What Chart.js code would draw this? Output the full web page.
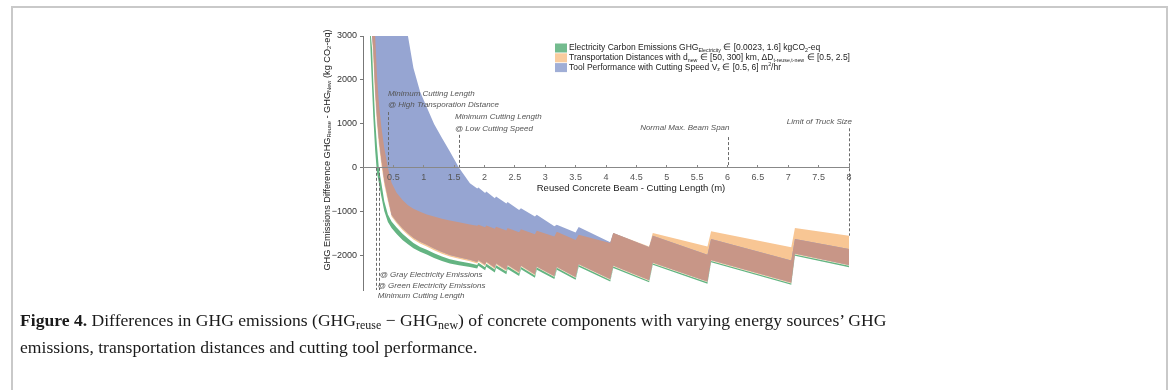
<!DOCTYPE html>
<html lang="en">
<head>
<meta charset="UTF-8" />
<title>Figure 4 – GHG emissions difference vs cutting length</title>
<script src="https://cdn.jsdelivr.net/npm/chart.js"></script>
<style>
  html, body { margin:0; padding:0; background:#fff; }
  body { width:1170px; height:390px; overflow:hidden; position:relative; }
  #frame { position:absolute; left:11px; top:6px; width:1157px; height:420px;
           border:2px solid #c9c9c9; border-bottom:none; box-sizing:border-box; }
  #chart { position:absolute; left:0; top:0; }
  #caption { position:absolute; left:20px; top:308px; font-family:"Liberation Serif", serif;
             font-size:17.6px; line-height:25px; color:#1a1a1a; white-space:nowrap; }
  #caption sub { font-size:0.68em; vertical-align:baseline; position:relative; top:0.28em; }
</style>
</head>
<body>
<div id="frame"></div>
<canvas id="chart" width="1170" height="310"></canvas>
<div id="caption"><b>Figure 4.</b> Differences in GHG emissions (GHG<sub>reuse</sub> − GHG<sub>new</sub>) of concrete components with varying energy sources’ GHG<br>emissions, transportation distances and cutting tool performance.</div>

<script>
// ---- data (kg CO2-eq vs cutting length in m) ----
const cutLength = [0.115, 0.13, 0.15, 0.17, 0.2, 0.23, 0.26, 0.3, 0.35, 0.41,
                   0.47, 0.55, 0.65, 0.74, 0.83, 0.94, 1.05, 1.17, 1.3, 1.43,
                   1.58, 1.76, 1.88, 1.9, 2.01, 2.03, 2.17, 2.19, 2.36, 2.38,
                   2.57, 2.6, 2.83, 2.86, 3.15, 3.19, 3.5, 3.55, 4.07, 4.12,
                   4.71, 4.77, 5.67, 5.73, 7.05, 7.11, 8];

// electricity band (green)
const elecLow  = [3000, 2450, 1800, 1150, 400, -120, -330, -640, -980, -1230,
                  -1370, -1500, -1640, -1740, -1830, -1910, -1975, -2050, -2120, -2175,
                  -2215, -2255, -2290, -2230, -2330, -2250, -2380, -2280, -2420, -2300,
                  -2460, -2310, -2500, -2320, -2530, -2320, -2545, -2250, -2585, -2280,
                  -2605, -2205, -2635, -2150, -2660, -2000, -2260];
const elecHigh = [3000, 3000, 2700, 1950, 1100, 500, 0, -330, -760, -1060,
                  -1220, -1350, -1500, -1610, -1710, -1800, -1865, -1945, -2020, -2080,
                  -2125, -2170, -2210, -2160, -2260, -2180, -2315, -2215, -2360, -2240,
                  -2405, -2255, -2450, -2270, -2485, -2275, -2505, -2210, -2550, -2245,
                  -2575, -2175, -2605, -2120, -2630, -1970, -2230];

// transportation band (orange)
const transLow  = [3000, 3000, 3000, 2500, 1600, 1000, 550, 100, -380, -760,
                   -1110, -1255, -1415, -1530, -1630, -1720, -1790, -1875, -1955, -2020,
                   -2070, -2125, -2175, -2130, -2235, -2160, -2300, -2202, -2348, -2230,
                   -2397, -2248, -2444, -2265, -2480, -2270, -2500, -2205, -2545, -2240,
                   -2570, -2170, -2600, -2115, -2625, -1965, -2225];
const transHigh = [3000, 3000, 3000, 3000, 3000, 2100, 1500, 950, 450, 0,
                   -340, -560, -730, -850, -930, -1000, -1060, -1110, -1160, -1200,
                   -1240, -1290, -1320, -1295, -1350, -1315, -1385, -1340, -1425, -1370,
                   -1465, -1400, -1510, -1430, -1565, -1455, -1640, -1520, -1710, -1485,
                   -1790, -1485, -1790, -1445, -1805, -1370, -1545];

// tool performance band (blue)
const toolLow  = [3000, 3000, 3000, 2700, 1800, 1150, 680, 220, -280, -680,
                  -1070, -1215, -1375, -1490, -1590, -1680, -1750, -1835, -1915, -1982,
                  -2033, -2090, -2142, -2098, -2205, -2130, -2272, -2174, -2322, -2204,
                  -2373, -2224, -2422, -2243, -2460, -2250, -2482, -2187, -2528, -2223,
                  -2554, -2154, -2584, -2099, -2609, -1949, -2209];
const toolHigh = [3000, 3000, 3000, 3000, 3000, 3000, 3000, 3000, 3000, 3000,
                  3000, 3000, 3000, 3000, 2270, 1730, 1380, 1000, 680, 370,
                  0, -350, -470, -445, -570, -540, -690, -655, -810, -775,
                  -960, -920, -1110, -1070, -1330, -1295, -1470, -1348, -1695, -1485,
                  -1810, -1545, -1977, -1621, -2106, -1621, -1848];

const xTicks = [0.5, 1, 1.5, 2, 2.5, 3, 3.5, 4, 4.5, 5, 5.5, 6, 6.5, 7, 7.5, 8];
const yTicks = [-2000, -1000, 0, 1000, 2000, 3000];

// dashed reference lines: x position, top and bottom value
const markerX    = [0.21, 0.26, 0.41, 1.58, 6, 8];
const markerFrom = [0, 0, 1270, 750, 700, 900];
const markerTo   = [-2780, -2780, 0, 0, 0, -1545];

const legendItems = [
  [['Electricity Carbon Emissions GHG',''],['Electricity','sub'],[' \u2208 [0.0023, 1.6] kgCO',''],['2','sub'],['-eq','']],
  [['Transportation Distances with d',''],['new','sub'],[' \u2208 [50, 300] km, \u0394D',''],['t-reuse,t-new','sub'],[' \u2208 [0.5, 2.5]','']],
  [['Tool Performance with Cutting Speed V',''],['z','sub'],[' \u2208 [0.5, 6] m',''],['2','sup'],['/hr','']]
];
const yTitle = [['GHG Emissions Difference GHG',''],['Reuse','sub'],[' - GHG',''],['New','sub'],[' (kg CO',''],['2','sub'],['-eq)','']];

const GREEN = '#64b482', ORANGE = '#f8c694', BLUE = '#96a5d2', BROWN = '#c89687';
const FONT = '"Liberation Sans", Arial, sans-serif';

// overlap of orange and blue bands shows as brown
const overlapLow  = toolLow.map((v, i) => Math.max(v, transLow[i]));
const overlapHigh = toolHigh.map((v, i) => Math.min(v, transHigh[i]));

const pts = arr => cutLength.map((x, i) => ({ x, y: arr[i] }));
const edge = (label, arr, order) => ({ label, data: pts(arr), borderWidth: 0, fill: false, order });
const band = (label, arr, color, order) => ({ label, data: pts(arr), borderWidth: 0,
                                            backgroundColor: color, fill: '-1', order });

// rich text with sub/superscripts
function richWidth(ctx, parts, size) {
  let w = 0;
  parts.forEach(([t, k]) => { ctx.font = `${k ? size * 0.62 : size}px ${FONT}`; w += ctx.measureText(t).width; });
  return w;
}
function drawRich(ctx, parts, x, y, size) {
  let cx = x;
  parts.forEach(([t, k]) => {
    ctx.font = `${k ? size * 0.62 : size}px ${FONT}`;
    const dy = k === 'sub' ? size * 0.28 : k === 'sup' ? -size * 0.32 : 0;
    ctx.fillText(t, cx, y + dy);
    cx += ctx.measureText(t).width;
  });
}

const decor = {
  id: 'decor',
  afterDatasetsDraw(chart) {
    const { ctx, chartArea: ca, scales: { x, y } } = chart;
    ctx.save();

    // dashed lines
    ctx.setLineDash([3, 2]);
    ctx.strokeStyle = '#6a6a6a';
    ctx.lineWidth = 1;
    markerX.forEach((mx, i) => {
      const px = Math.round(x.getPixelForValue(mx)) + 0.5;
      ctx.beginPath();
      ctx.moveTo(px, y.getPixelForValue(markerFrom[i]));
      ctx.lineTo(px, y.getPixelForValue(markerTo[i]));
      ctx.stroke();
    });
    ctx.setLineDash([]);

    // notes
    ctx.fillStyle = '#555';
    ctx.textBaseline = 'middle';
    ctx.font = `italic 8px ${FONT}`;
    const px = i => x.getPixelForValue(markerX[i]);
    const py = i => y.getPixelForValue(markerFrom[i]);
    ctx.textAlign = 'left';
    ctx.fillText('@ Gray Electricity Emissions', px(0) + 4, ca.bottom - 15);
    ctx.fillText('@ Green Electricity Emissions', px(0) + 2, ca.bottom - 4);
    ctx.fillText('Minimum Cutting Length', px(0) + 2, ca.bottom + 6);
    ctx.fillText('Minimum Cutting Length', px(2), py(2) - 18);
    ctx.fillText('@ High Transporation Distance', px(2), py(2) - 7);
    ctx.fillText('Minimum Cutting Length', px(3) - 4, py(3) - 18);
    ctx.fillText('@ Low Cutting Speed', px(3) - 4, py(3) - 6);
    ctx.textAlign = 'right';
    ctx.fillText('Normal Max. Beam Span', px(4) + 2, py(4) - 9);
    ctx.fillText('Limit of Truck Size', px(5) + 3, py(5) - 7);

    // x axis title (sits under the tick labels at y = 0)
    ctx.fillStyle = '#222';
    ctx.textAlign = 'center';
    ctx.font = `9.5px ${FONT}`;
    ctx.fillText('Reused Concrete Beam - Cutting Length (m)', ca.left + 268, y.getPixelForValue(0) + 21);

    // y axis title
    ctx.textAlign = 'left';
    ctx.save();
    ctx.translate(ca.left - 36, 150);
    ctx.rotate(-Math.PI / 2);
    const tw = richWidth(ctx, yTitle, 9.2);
    drawRich(ctx, yTitle, -tw / 2, 0, 9.2);
    ctx.restore();

    // legend
    legendItems.forEach((parts, i) => {
      const ly = ca.top + 12 + i * 9.8;
      ctx.fillStyle = [GREEN, ORANGE, BLUE][i];
      ctx.globalAlpha = 0.9;
      ctx.fillRect(ca.left + 192, ly - 4.5, 12, 9);
      ctx.globalAlpha = 1;
      ctx.fillStyle = '#222';
      drawRich(ctx, parts, ca.left + 206, ly, 8.5);
    });
    ctx.restore();
  }
};

new Chart(document.getElementById('chart'), {
  type: 'line',
  data: {
    datasets: [
      edge('elecLow', elecLow, 1),
      band('Electricity', elecHigh, GREEN, 1),
      edge('transLow', transLow, 4),
      band('Transportation', transHigh, ORANGE, 4),
      edge('toolLow', toolLow, 3),
      band('Tool', toolHigh, BLUE, 3),
      edge('overlapLow', overlapLow, 2),
      band('Overlap', overlapHigh, BROWN, 2)
    ]
  },
  options: {
    responsive: false,
    animation: false,
    layout: { padding: { left: 318, right: 321, top: 36, bottom: 20 } },
    elements: { line: { tension: 0 }, point: { radius: 0 } },
    plugins: { legend: { display: false }, tooltip: { enabled: false } },
    scales: {
      x: {
        type: 'linear', min: 0, max: 8, position: { y: 0 },
        afterBuildTicks: s => { s.ticks = xTicks.map(v => ({ value: v })); },
        afterFit: s => { s.height = 0; s.paddingLeft = 0; s.paddingRight = 0; },
        grid: { drawOnChartArea: false, tickLength: -3, color: '#888', z: 1 },
        border: { color: '#888', width: 1, z: 1 },
        ticks: { padding: 7, color: '#555', autoSkip: false, maxRotation: 0, z: 1,
                 font: { size: 9, family: FONT }, callback: v => String(v) }
      },
      y: {
        min: -2780, max: 3000,
        afterBuildTicks: s => { s.ticks = yTicks.map(v => ({ value: v })); },
        afterFit: s => { s.width = 45; },
        grid: { drawOnChartArea: false, tickLength: 3, color: '#777' },
        border: { color: '#777', width: 1 },
        ticks: { padding: 3, color: '#333', font: { size: 9, family: FONT },
                 callback: v => v < 0 ? '\u2212' + Math.abs(v) : String(v) }
      }
    }
  },
  plugins: [decor]
});
</script>
</body>
</html>
